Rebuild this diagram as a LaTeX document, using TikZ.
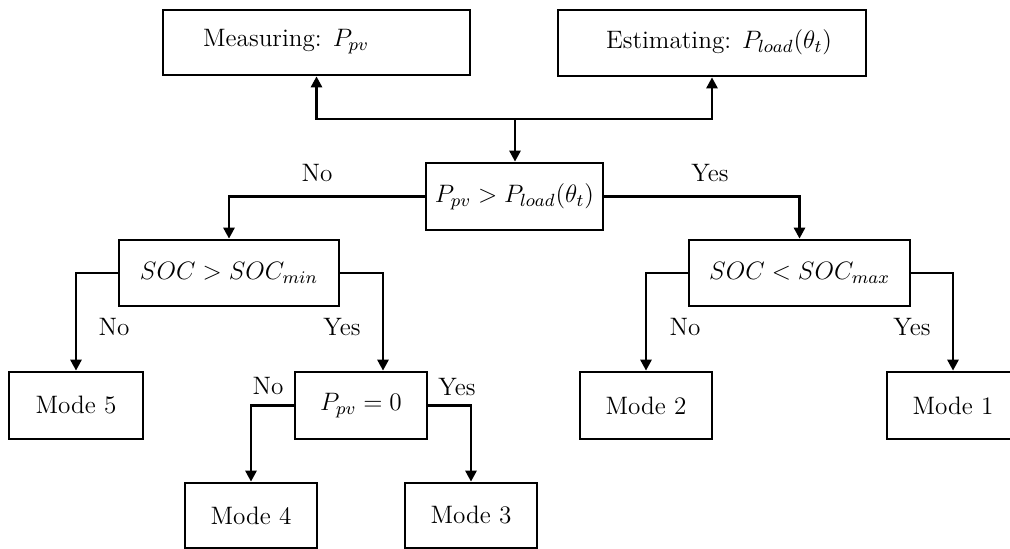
\RequirePackage{fix-cm}
\documentclass[tikz,border=0pt]{standalone}
\usetikzlibrary{arrows.meta}
\begin{document}
\begin{tikzpicture}[x=0.5pt,y=-0.5pt,
  box/.style={draw, line width=1.35pt, inner sep=0pt, font=\fontsize{12.6}{15}\selectfont},
  txt/.style={font=\fontsize{12.6}{15}\selectfont, inner sep=0pt},
  conn/.style={line width=1.35pt, -{Triangle[length=5.5pt,width=5.5pt]}}]
\useasboundingbox (0,0) rectangle (1010,549);
\clip (0,0) rectangle (1010,549);
% top boxes
\node[box, minimum width=153.5pt, minimum height=32.5pt] (meas) at (316.5,42.5) {};
\node[txt] (meastxt) at (286,42) {Measuring: $P_{pv}$};
\node[box, minimum width=154pt, minimum height=33pt] (est) at (712,43) {};
\node[txt] (esttxt) at (719,42) {Estimating: $P_{load}(\theta_t)$};
% decision boxes
\node[box, minimum width=88.5pt, minimum height=33.5pt] (cmp) at (514.5,196.5) {$P_{pv} > P_{load}(\theta_t)$};
\node[box, minimum width=110pt, minimum height=33pt] (socmin) at (229,273) {$SOC > SOC_{min}$};
\node[box, minimum width=110.5pt, minimum height=33pt] (socmax) at (799.5,273) {$SOC < SOC_{max}$};
\node[box, minimum width=66pt, minimum height=33.5pt] (ppv0) at (361,405.5) {$P_{pv} = 0$};
% modes
\node[box, minimum width=67pt, minimum height=33.5pt] (mode5) at (76,405.5) {Mode 5};
\node[box, minimum width=66pt, minimum height=33.5pt] (mode2) at (646,405.5) {Mode 2};
\node[box, minimum width=66pt, minimum height=33.5pt] (mode1) at (953,405.5) {Mode 1};
\node[box, minimum width=66pt, minimum height=32.5pt] (mode4) at (251,515.5) {Mode 4};
\node[box, minimum width=66pt, minimum height=32.5pt] (mode3) at (471,515.5) {Mode 3};
% connectors
\coordinate (j) at (515,119);
\draw[conn] (j) -- (j |- cmp.north);
\draw[conn] (j) -| (meas.south);
\draw[conn] (j) -| (est.south);
\draw[conn] (cmp.west) -| (socmin.north);
\draw[conn] (cmp.east) -| (socmax.north);
\draw[conn] (socmin.west) -| (mode5.north);
\draw[conn] (socmin.east) -| ([xshift=11pt]ppv0.north);
\draw[conn] (ppv0.west) -| (mode4.north);
\draw[conn] (ppv0.east) -| (mode3.north);
\draw[conn] (socmax.west) -| (mode2.north);
\draw[conn] (socmax.east) -| (mode1.north);
% labels
\node[txt] (l1) at (317,173) {No};
\node[txt] (l2) at (710,173) {Yes};
\node[txt] (l3) at (114,327) {No};
\node[txt] (l4) at (342,327) {Yes};
\node[txt] (l5) at (268,386) {No};
\node[txt] (l6) at (457,387) {Yes};
\node[txt] (l7) at (685,327) {No};
\node[txt] (l8) at (912,327) {Yes};
\end{tikzpicture}
\end{document}
